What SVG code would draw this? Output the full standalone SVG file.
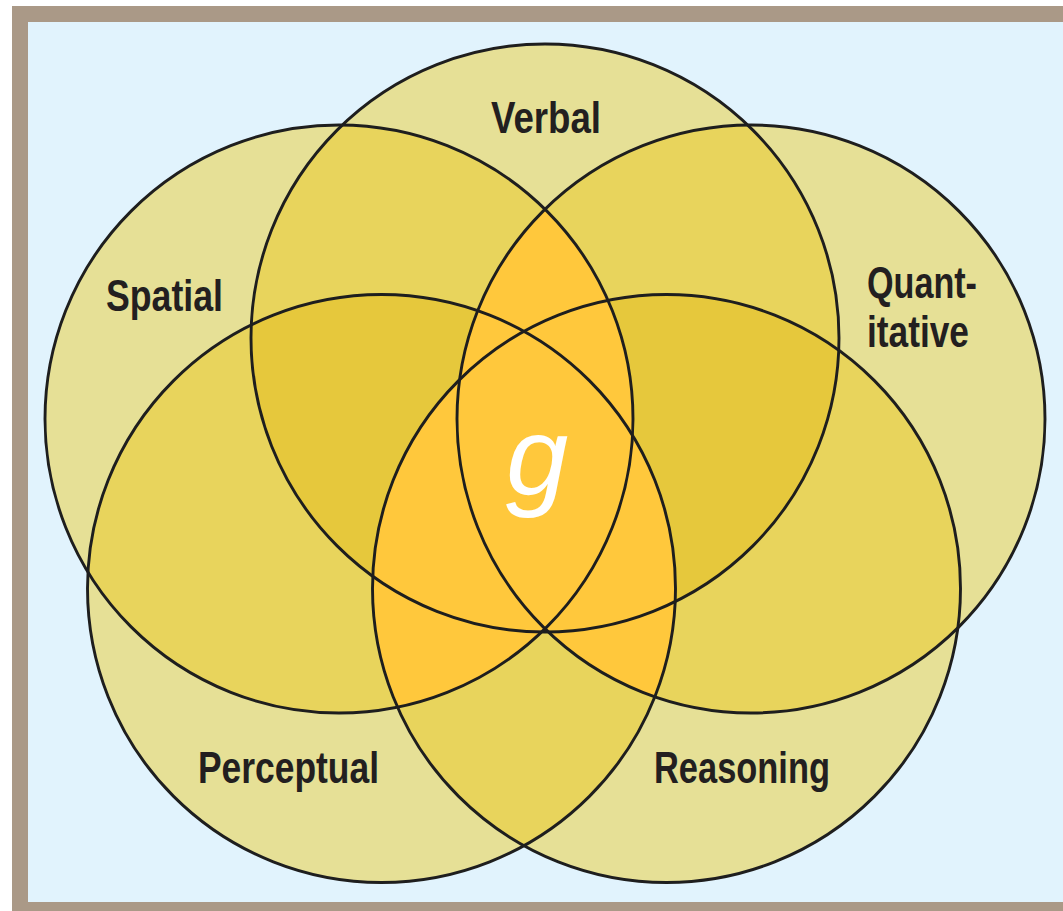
<svg xmlns="http://www.w3.org/2000/svg" xmlns:xlink="http://www.w3.org/1999/xlink" width="1063" height="911" viewBox="0 0 1063 911">
<style>
.o{fill:none;stroke:#1e1e1e;stroke-width:2.9}
.lbl{font-family:"Liberation Sans Narrow","Liberation Sans",Arial,sans-serif;font-weight:bold;font-size:44px;fill:#231f20}
.g{font-family:"Liberation Sans",Arial,sans-serif;font-style:italic;font-size:112px;fill:#ffffff}
</style>
<defs>
<circle id="V" cx="545" cy="338" r="294"/>
<circle id="S" cx="339" cy="419" r="294"/>
<circle id="Q" cx="751" cy="419" r="294"/>
<circle id="P" cx="381.5" cy="588.5" r="294"/>
<circle id="R" cx="666.5" cy="588.5" r="294"/>
<clipPath id="cV"><use href="#V"/></clipPath>
<clipPath id="cS"><use href="#S"/></clipPath>
<clipPath id="cQ"><use href="#Q"/></clipPath>
<clipPath id="cP"><use href="#P"/></clipPath>
<clipPath id="cR"><use href="#R"/></clipPath>
</defs>
<rect x="12" y="6" width="1051" height="905" fill="#aa9987"/>
<rect x="28" y="22" width="1035" height="880" fill="#e1f3fd"/>
<g id="fills">
<g fill="#e6e096"><use href="#V"/><use href="#S"/><use href="#Q"/><use href="#P"/><use href="#R"/></g>
<g fill="#e8d45c">
<g clip-path="url(#cV)"><use href="#S"/><use href="#Q"/><use href="#P"/><use href="#R"/></g>
<g clip-path="url(#cS)"><use href="#Q"/><use href="#P"/><use href="#R"/></g>
<g clip-path="url(#cQ)"><use href="#P"/><use href="#R"/></g>
<g clip-path="url(#cP)"><use href="#R"/></g>
</g>
<g fill="#e6c83c">
<g clip-path="url(#cV)"><g clip-path="url(#cS)"><use href="#Q"/><use href="#P"/><use href="#R"/></g></g>
<g clip-path="url(#cV)"><g clip-path="url(#cQ)"><use href="#P"/><use href="#R"/></g></g>
<g clip-path="url(#cV)"><g clip-path="url(#cP)"><use href="#R"/></g></g>
<g clip-path="url(#cS)"><g clip-path="url(#cQ)"><use href="#P"/><use href="#R"/></g></g>
<g clip-path="url(#cS)"><g clip-path="url(#cP)"><use href="#R"/></g></g>
<g clip-path="url(#cQ)"><g clip-path="url(#cP)"><use href="#R"/></g></g>
</g>
<g fill="#ffc83c">
<g clip-path="url(#cS)"><use href="#Q"/></g>
<g clip-path="url(#cP)"><g clip-path="url(#cR)"><use href="#S"/><use href="#Q"/></g></g>
</g>
</g>
<g id="verbal"><use href="#V" class="o"/><text class="lbl" x="491" y="133" textLength="110" lengthAdjust="spacingAndGlyphs">Verbal</text></g>
<g id="spatial"><use href="#S" class="o"/><text class="lbl" x="106" y="311" textLength="117" lengthAdjust="spacingAndGlyphs">Spatial</text></g>
<g id="quantitative"><use href="#Q" class="o"/><text class="lbl" x="867" y="298" textLength="110" lengthAdjust="spacingAndGlyphs">Quant-</text><text class="lbl" x="867" y="347" textLength="102" lengthAdjust="spacingAndGlyphs">itative</text></g>
<g id="perceptual"><use href="#P" class="o"/><text class="lbl" x="198" y="783" textLength="181" lengthAdjust="spacingAndGlyphs">Perceptual</text></g>
<g id="reasoning"><use href="#R" class="o"/><text class="lbl" x="654" y="783" textLength="176" lengthAdjust="spacingAndGlyphs">Reasoning</text></g>
<g id="g-factor"><text class="g" x="506" y="495">g</text></g>
</svg>
